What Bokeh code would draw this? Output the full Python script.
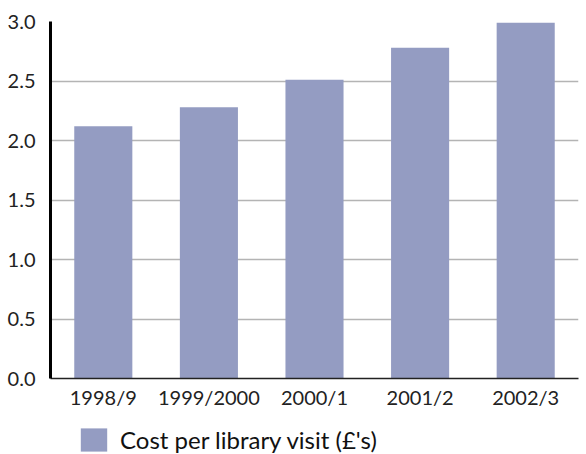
from bokeh.plotting import figure
from bokeh.layouts import column
from bokeh.models import ColumnDataSource, Legend, LegendItem, FixedTicker, CustomJSTickFormatter
from bokeh.embed import file_html
from bokeh.resources import INLINE

years = ["1998/9", "1999/2000", "2000/1", "2001/2", "2002/3"]
cost = [2.12, 2.28, 2.51, 2.78, 2.99]
series_name = "Cost per library visit (£'s)"
y_ticks = [0.0, 0.5, 1.0, 1.5, 2.0, 2.5, 3.0]

bar_color = "#949cc2"
font = "Lato"

src = ColumnDataSource(dict(x=years, y=cost))

p = figure(x_range=years, y_range=(0, 3.0), width=586, height=417,
           output_backend="svg", toolbar_location=None,
           min_border_left=50, min_border_right=8, min_border_top=21,
           min_border_bottom=39)
r = p.vbar(x="x", top="y", width=0.55, source=src, color=bar_color, line_color=None)

p.outline_line_color = None
p.xgrid.grid_line_color = None
p.ygrid.grid_line_color = "#b4b4b4"
p.ygrid.grid_line_width = 1.5
p.yaxis.ticker = FixedTicker(ticks=y_ticks)
p.yaxis.formatter = CustomJSTickFormatter(code="return tick.toFixed(1);")
p.yaxis.axis_line_width = 3
p.yaxis.axis_line_color = "black"
p.yaxis.major_tick_line_color = None
p.yaxis.minor_tick_line_color = None
p.yaxis.major_label_standoff = 9
p.xaxis.axis_line_color = "#222222"
p.xaxis.axis_line_width = 1.5
p.xaxis.major_tick_line_color = None
p.xaxis.major_label_standoff = 0
for ax in (p.xaxis, p.yaxis):
    ax.major_label_text_font = font
    ax.major_label_text_font_size = "20px"
    ax.major_label_text_color = "#222222"

# legend strip below the chart (proxy bar has zero height, so it draws nothing)
lf = figure(width=586, height=37, output_backend="svg", toolbar_location=None,
            min_border=0, x_range=(0, 1), y_range=(0, 1))
lf.axis.visible = False
lf.grid.visible = False
lf.outline_line_color = None
proxy = ColumnDataSource(dict(x=[0.5], top=[-5], bottom=[-5]))
dummy = lf.vbar(x="x", top="top", bottom="bottom", width=0.1, source=proxy,
                color=bar_color, line_color=None)
legend = Legend(items=[LegendItem(label=series_name, renderers=[dummy])],
                location=(27, 0),
                glyph_width=33, glyph_height=29, padding=0, margin=0,
                spacing=0, label_standoff=10,
                border_line_color=None, background_fill_alpha=0,
                label_text_font=font, label_text_font_size="24px",
                label_text_color="#111111")
lf.add_layout(legend, "center")

layout = column(p, lf, spacing=0)
open("out.html", "w").write(file_html(layout, INLINE))
